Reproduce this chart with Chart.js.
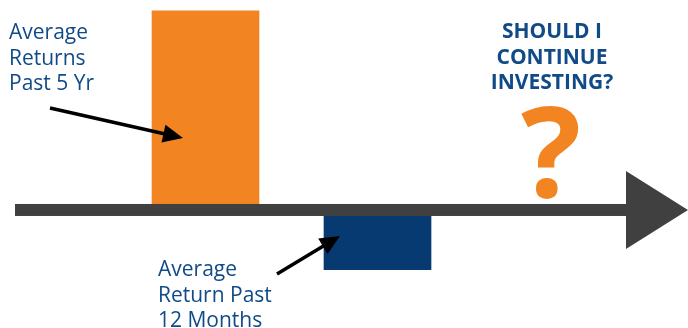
<!DOCTYPE html>
<html>
<head>
<meta charset="utf-8">
<script src="https://cdn.jsdelivr.net/npm/chart.js@4.4.1/dist/chart.umd.min.js"></script>
<style>
  html, body { margin: 0; padding: 0; background: #ffffff; }
  #wrap { width: 688px; height: 328px; position: relative; }
</style>
</head>
<body>
<div id="wrap"><canvas id="c" width="688" height="328"></canvas></div>
<script>
// ---- data ----
const categories = ['Average Returns Past 5 Yr', 'Average Return Past 12 Months'];
const returnValues = [10, -3];
const barColors = ['#f38422', '#083a72'];
const labelLines5Yr = ['Average', 'Returns', 'Past 5 Yr'];
const labelLines12M = ['Average', 'Return Past', '12 Months'];
const questionLines = ['SHOULD I', 'CONTINUE', 'INVESTING?'];

const FONT = '"Open Sans", "Noto Sans", sans-serif';
const TEXT_BLUE = '#114b87';

function drawArrow(ctx, x1, y1, x2, y2) {
  const ang = Math.atan2(y2 - y1, x2 - x1);
  const headLen = 20, headW = 9;
  const bx = x2 - headLen * Math.cos(ang), by = y2 - headLen * Math.sin(ang);
  ctx.save();
  ctx.strokeStyle = '#000';
  ctx.fillStyle = '#000';
  ctx.lineWidth = 3.5;
  ctx.beginPath();
  ctx.moveTo(x1, y1);
  ctx.lineTo(bx + 4 * Math.cos(ang), by + 4 * Math.sin(ang));
  ctx.stroke();
  ctx.beginPath();
  ctx.moveTo(x2, y2);
  ctx.lineTo(bx - headW * Math.sin(ang), by + headW * Math.cos(ang));
  ctx.lineTo(bx + headW * Math.sin(ang), by - headW * Math.cos(ang));
  ctx.closePath();
  ctx.fill();
  ctx.restore();
}

const overlay = {
  id: 'overlay',
  afterDatasetsDraw(chart) {
    const ctx = chart.ctx;
    const y0 = chart.scales.y.getPixelForValue(0);
    ctx.save();
    // axis line
    ctx.fillStyle = '#404040';
    ctx.fillRect(15, y0 - 6, 615, 12);
    // arrowhead
    ctx.beginPath();
    ctx.moveTo(626, y0 - 39);
    ctx.lineTo(626, y0 + 39);
    ctx.lineTo(688, y0);
    ctx.closePath();
    ctx.fill();

    // text labels
    ctx.fillStyle = TEXT_BLUE;
    ctx.textAlign = 'left';
    ctx.textBaseline = 'alphabetic';
    ctx.font = '21px ' + FONT;
    labelLines5Yr.forEach((t, i) => ctx.fillText(t, 9, 39 + i * 25.5));
    labelLines12M.forEach((t, i) => ctx.fillText(t, 158, 276 + i * 25.5));

    ctx.font = 'bold 21px ' + FONT;
    ctx.textAlign = 'center';
    questionLines.forEach((t, i) => ctx.fillText(t, 552, 38 + i * 25.5));

    ctx.fillStyle = '#f38422';
    ctx.font = 'bold 126px ' + FONT;
    ctx.fillText('?', 551, 197);
    ctx.restore();

    drawArrow(ctx, 50, 108, 183, 138);
    drawArrow(ctx, 277, 274, 340, 236);
  }
};

new Chart(document.getElementById('c'), {
  type: 'bar',
  data: {
    labels: categories,
    datasets: [{
      data: returnValues,
      backgroundColor: barColors,
      borderWidth: 0,
      barThickness: 107
    }]
  },
  options: {
    responsive: false,
    devicePixelRatio: 1,
    animation: false,
    layout: { padding: { left: 119.5, right: 224.5, top: 0, bottom: 0 } },
    plugins: { legend: { display: false }, tooltip: { enabled: false } },
    scales: {
      x: { display: false },
      y: { display: false, min: -5.93, max: 10.55 }
    }
  },
  plugins: [overlay]
});
</script>
</body>
</html>
